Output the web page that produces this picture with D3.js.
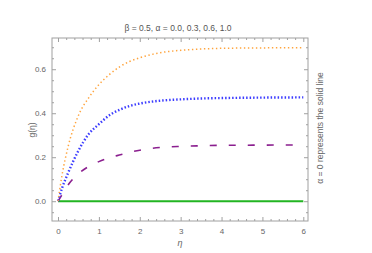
<!DOCTYPE html>
<html>
<head>
<meta charset="utf-8">
<script src="https://cdn.jsdelivr.net/npm/d3@7"></script>
<style>
  body { margin: 0; background: #fff; }
  text { font-family: "Liberation Sans", Arial, sans-serif; }
</style>
</head>
<body>
<div id="chart"></div>
<script>
// eta grid and g(eta), beta = 0.5
const eta = [0, 0.1, 0.25, 0.5, 0.75, 1, 1.25, 1.5, 1.75, 2, 2.5, 3, 3.5, 4, 5, 6];
const gA0 = [0, 0, 0, 0, 0, 0, 0, 0, 0, 0, 0, 0, 0, 0, 0, 0];
const gA03 = [0, 0.03, 0.075, 0.125, 0.158, 0.18, 0.197, 0.21, 0.222, 0.232, 0.244, 0.249, 0.252, 0.254, 0.255, 0.256];
const gA06 = [0, 0.06, 0.13, 0.23, 0.305, 0.35, 0.39, 0.415, 0.433, 0.444, 0.457, 0.463, 0.467, 0.469, 0.471, 0.472];
const gA10 = [0, 0.12, 0.25, 0.39, 0.47, 0.53, 0.575, 0.61, 0.635, 0.652, 0.675, 0.686, 0.692, 0.695, 0.697, 0.698];
const xTicks = [0, 1, 2, 3, 4, 5, 6];
const yTicks = [0, 0.2, 0.4, 0.6];

var width = 372, height = 253;
var svg = d3.select("#chart").append("svg")
  .attr("width", width)
  .attr("height", height);

var x = d3.scaleLinear().domain([-0.147, 6.115]).range([52, 308]);
var y = d3.scaleLinear().domain([-0.09, 0.742]).range([221, 38]);

var frameColor = "#a0a0a0";
var labelColor = "#666";

// ticks, inward, on all four sides
function tickAxis(axis, tr, major, minor, labels) {
  var g = svg.append("g").attr("transform", tr);
  g.call(axis.tickValues(minor).tickSize(-2).tickFormat(""));
  g.selectAll(".domain").remove();
  var g2 = svg.append("g").attr("transform", tr);
  g2.call(axis.tickValues(major).tickSize(-4).tickPadding(6)
    .tickFormat(labels ? (d => d3.format(".1f")(d)) : ""));
  g2.selectAll(".domain").remove();
  [g, g2].forEach(gg => gg.selectAll("line").attr("stroke", frameColor));
  return g2;
}
var xMinor = d3.range(0, 6.01, 0.2).filter(v => Math.abs(v - Math.round(v)) > 1e-6);
var yMinor = d3.range(-0.05, 0.72, 0.05).filter(v => Math.abs(v * 5 - Math.round(v * 5)) > 1e-6);

var gx = tickAxis(d3.axisBottom(x), "translate(0,221)", xTicks, xMinor, false);
gx.selectAll("text").text(d => d).attr("dy", "0.9em");
tickAxis(d3.axisTop(x), "translate(0,38)", xTicks, xMinor, false);
var gy = tickAxis(d3.axisLeft(y), "translate(52,0)", yTicks, yMinor, true);
tickAxis(d3.axisRight(y), "translate(308,0)", yTicks, yMinor, false);
svg.selectAll(".tick text").attr("fill", labelColor).style("font-size", "8px");
gx.selectAll("text").text(d => d3.format("d")(d));

// frame
svg.append("rect")
  .attr("x", 52).attr("y", 38).attr("width", 256).attr("height", 183)
  .attr("fill", "none").attr("stroke", frameColor).attr("stroke-width", 1);

var line = d3.line()
  .x((d, i) => x(eta[i]))
  .y(d => y(d))
  .curve(d3.curveMonotoneX);

var series = [
  { v: gA0, color: "#22b522", w: 2, dash: null },
  { v: gA03, color: "#8b1f8f", w: 1.6, dash: "7,12" },
  { v: gA06, color: "#3c3cff", w: 2.4, dash: "1.5,2" },
  { v: gA10, color: "#ffa43d", w: 1.5, dash: "1.4,2.6" }
];

var clip = svg.append("clipPath").attr("id", "clip")
  .append("rect").attr("x", 52).attr("y", 38).attr("width", 256).attr("height", 183);

svg.append("g").attr("clip-path", "url(#clip)")
  .selectAll("path")
  .data(series)
  .enter().append("path")
  .attr("d", d => line(d.v))
  .attr("fill", "none")
  .attr("stroke", d => d.color)
  .attr("stroke-width", d => d.w)
  .attr("stroke-dasharray", d => d.dash);

// labels
svg.append("text")
  .attr("x", 178).attr("y", 31)
  .attr("text-anchor", "middle")
  .attr("fill", "#555").style("font-size", "8.5px")
  .text("β = 0.5, α = 0.0, 0.3, 0.6, 1.0");

svg.append("text")
  .attr("x", 180).attr("y", 246)
  .attr("text-anchor", "middle")
  .attr("fill", labelColor).style("font-size", "9px").style("font-style", "italic")
  .text("η");

svg.append("text")
  .attr("transform", "translate(35,130) rotate(-90)")
  .attr("text-anchor", "middle")
  .attr("fill", labelColor).style("font-size", "8.5px")
  .text("g(η)");

svg.append("text")
  .attr("transform", "translate(323,128) rotate(-90)")
  .attr("text-anchor", "middle")
  .attr("fill", labelColor).style("font-size", "8.5px")
  .text("α = 0 represents the solid line");
</script>
</body>
</html>
